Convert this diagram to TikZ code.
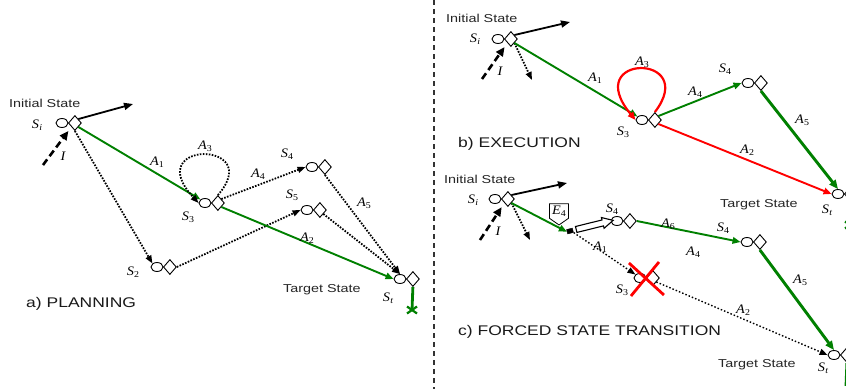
\documentclass[tikz,border=0pt]{standalone}
\usepackage{fontspec}
\setmainfont{Liberation Sans}
\newfontfamily\capfont[FakeStretch=1.25]{Liberation Sans}
\newfontfamily\symfont[FakeStretch=1.1]{Liberation Serif}
\usetikzlibrary{arrows.meta,shapes.geometric,shapes.arrows,shapes.symbols}
\definecolor{pathgreen}{RGB}{0,128,0}
\definecolor{errred}{RGB}{255,0,0}
% italic symbol with a small subscript
\newcommand\sym[2]{{\symfont\fontsize{13}{13}\selectfont\itshape #1\kern0.2pt\raisebox{-0.35ex}{\fontsize{9}{9}\selectfont\upshape #2}}}
% a state: small ellipse followed by a diamond
\newcommand\stnode[2]{%
  \node[stc] (#1c) at (#2) {};
  \node[std, anchor=west] (#1d) at ([xshift=-0.5pt]#1c.east) {};}
\begin{document}
\begin{tikzpicture}[x=1pt,y=-1pt,
  stc/.style={ellipse, draw, line width=0.9pt, fill=white, minimum width=12pt, minimum height=9pt, inner sep=0pt},
  std/.style={diamond, draw, line width=0.9pt, fill=white, minimum width=13pt, minimum height=15pt, inner sep=0pt},
  lbl/.style={font=\capfont\fontsize{11.5}{12}\selectfont, inner sep=0pt, anchor=base west, text=black!85},
  captxt/.style={font=\capfont\fontsize{14}{14}\selectfont, inner sep=0pt, anchor=base west, text=black!90},
  mlbl/.style={inner sep=0pt},
  blk/.style={line width=1.8pt, -{Triangle[length=9pt,width=7pt]}},
  inarr/.style={line width=2.6pt, dash pattern=on 7pt off 4pt, shorten >=5pt, -{Triangle[length=9pt,width=8pt]}},
  dotl/.style={line width=1.8pt, dash pattern=on 1.6pt off 1.4pt, -{Triangle[length=8pt,width=6pt]}},
  dotthin/.style={line width=1.4pt, dash pattern=on 1.5pt off 2pt, -{Triangle[length=8pt,width=6pt]}},
  grn/.style={draw=pathgreen, line width=1.9pt, -{Triangle[length=8pt,width=6.5pt]}, pathgreen},
  grnthick/.style={draw=pathgreen, line width=2.9pt, -{Triangle[length=9pt,width=7.5pt]}, pathgreen},
  redl/.style={draw=errred, line width=1.9pt, -{Triangle[length=8pt,width=6.5pt]}, errred},
  stub/.style={draw=pathgreen, line width=2.8pt},
  stubx/.style={draw=pathgreen, line width=2.2pt},
  crossout/.style={draw=errred, line width=2.8pt},
  blockarr/.style={single arrow, draw, fill=white, line width=1.1pt, minimum height=38pt, inner sep=2.5pt,
    single arrow head extend=2.5pt, single arrow tip angle=55, sloped},
  evt/.style={signal, signal to=south, signal pointer angle=110, draw, fill=white, line width=0.8pt,
    inner sep=2pt, minimum width=19pt},
  divider/.style={draw=black!80, line width=1.8pt, dash pattern=on 5pt off 4pt}]
\useasboundingbox (0,0) rectangle (846,389);
\fill[white] (0,0) rectangle (846,389);

% ---------------- a) planning ----------------
\stnode{aSi}{62,123}
\stnode{aS2}{157,267}
\stnode{aS3}{205,203}
\stnode{aS4}{312,167}
\stnode{aS5}{307,210}
\stnode{aSt}{400,279}
\coordinate (aOut) at (133,104);
\coordinate (aIn) at (43,165);
\coordinate (aEnd) at (412,310);

\draw[blk] (aSid.north east) -- (aOut);
\draw[inarr] (aIn) -- (aSid.south west);
\draw[grn] (aSid.south east) -- (aS3c.north west);
\draw[dotl] (aSid.south) -- (aS2c.north west);
\draw[dotl] (aS3d.north) .. controls (266,140) and (140,140) .. (aS3c.west);
\draw[dotl] (aS3d.north east) -- (aS4c.west);
\draw[dotl] (aS2d.east) -- (aS5c.west);
\draw[dotl] (aS4d.south) -- (aStc.north);
\draw[dotl] (aS5d.south east) -- (aStc.north);
\draw[grn] (aS3d.south east) -- (aStc.west);
\draw[stub] (aStd.south) -- (aEnd);
\draw[stubx] ([shift={(-5,-3.5)}]aEnd) -- ([shift={(5,3.5)}]aEnd);
\draw[stubx] ([shift={(-5,3.5)}]aEnd) -- ([shift={(5,-3.5)}]aEnd);

\node[lbl] (aInit) at (9,107) {Initial State};
\node[lbl] (aTarget) at (283,292) {Target State};
\node[captxt] (aCap) at (26,307) {a) PLANNING};
\node[mlbl] (aLSi) at (37,125) {\sym{S}{\itshape i}};
\node[mlbl] (aLI) at (63,157) {\sym{I}{}};
\node[mlbl] (aLA1) at (157,162) {\sym{A}{1}};
\node[mlbl] (aLA3) at (205,146) {\sym{A}{3}};
\node[mlbl] (aLS3) at (188,217) {\sym{S}{3}};
\node[mlbl] (aLS2) at (133,272) {\sym{S}{2}};
\node[mlbl] (aLA4) at (258,174) {\sym{A}{4}};
\node[mlbl] (aLS4) at (287,154) {\sym{S}{4}};
\node[mlbl] (aLS5) at (292,195) {\sym{S}{5}};
\node[mlbl] (aLA5) at (364,203) {\sym{A}{5}};
\node[mlbl] (aLA2) at (307,238) {\sym{A}{2}};
\node[mlbl] (aLSt) at (388,298) {\sym{S}{\itshape t}};

% ---------------- divider ----------------
\draw[divider] (434,0) -- (434,389);

% ---------------- b) execution ----------------
\stnode{bSi}{498,39}
\stnode{bS3}{642,120}
\stnode{bS4}{748,83}
\stnode{bSt}{838,194}
\coordinate (bOut) at (570,22);
\coordinate (bIn) at (482,79);
\coordinate (bDown) at (532,80);
\coordinate (bEnd) at (850,225);

\draw[blk] (bSid.north east) -- (bOut);
\draw[inarr] (bIn) -- (bSid.south west);
\draw[dotl] (bSid.south east) -- (bDown);
\draw[grn] (bSid.south east) -- (bS3c.north west);
\draw[redl, line width=2.2pt] (bS3d.north) .. controls (700,53) and (580,53) .. (bS3c.west);
\draw[grn] (bS3d.north east) -- (bS4c.west);
\draw[redl] (bS3d.south east) -- (bStc.west);
\draw[grnthick] (bS4d.south) -- (bStc.north);
\draw[stub] (bStd.south) -- (bEnd);
\draw[stubx] ([shift={(-5,-3.5)}]bEnd) -- ([shift={(5,3.5)}]bEnd);
\draw[stubx] ([shift={(-5,3.5)}]bEnd) -- ([shift={(5,-3.5)}]bEnd);

\node[lbl] (bInit) at (446,22) {Initial State};
\node[lbl] (bTarget) at (720,207) {Target State};
\node[captxt] (bCap) at (458,147) {b) EXECUTION};
\node[mlbl] (bLSi) at (475,39) {\sym{S}{\itshape i}};
\node[mlbl] (bLI) at (500,72) {\sym{I}{}};
\node[mlbl] (bLA1) at (595,78) {\sym{A}{1}};
\node[mlbl] (bLA3) at (642,62) {\sym{A}{3}};
\node[mlbl] (bLS3) at (623,132) {\sym{S}{3}};
\node[mlbl] (bLA4) at (695,92) {\sym{A}{4}};
\node[mlbl] (bLS4) at (725,69) {\sym{S}{4}};
\node[mlbl] (bLA5) at (802,120) {\sym{A}{5}};
\node[mlbl] (bLA2) at (747,150) {\sym{A}{2}};
\node[mlbl] (bLSt) at (827,210) {\sym{S}{\itshape t}};

% ---------------- c) forced state transition ----------------
\stnode{cSi}{495,199}
\stnode{cS4}{617,221}
\stnode{cS3}{640,278}
\stnode{cSf}{747,242}
\stnode{cSt}{834,355}
\coordinate (cOut) at (567,183);
\coordinate (cIn) at (480,240);
\coordinate (cDown) at (530,240);
\coordinate (cEnd) at (846,386);
\node[draw, fill=black, minimum width=6pt, minimum height=4.5pt, inner sep=0pt, rotate=14] (cBrk) at (570,231) {};
\node[evt] (cE) at (559,211) {\sym{E}{4}};

\draw[blk] (cSid.north east) -- (cOut);
\draw[inarr] (cIn) -- (cSid.south west);
\draw[dotl] (cSid.south east) -- (cDown);
\draw[grn] (cSid.south east) -- (cBrk.west);
\path (cBrk.east) -- (cS4c.west) node[midway, blockarr] (cJump) {};
\draw[dotthin] (cBrk.south east) -- (cS3c.north west);
\draw[dotthin] (cS3d.south east) -- (cStc.west);
\draw[grn] (cS4d.east) -- (cSfc.west);
\draw[grnthick] (cSfd.south) -- (cStc.north);
\draw[stub] (cStd.south) -- (cEnd);
\draw[crossout] ([shift={(-17,-15)}]cS3d.west) -- ([shift={(18,17)}]cS3d.west);
\draw[crossout] ([shift={(13,-16)}]cS3d.west) -- ([shift={(-15,18)}]cS3d.west);

\node[lbl] (cInit) at (444,183) {Initial State};
\node[lbl] (cTarget) at (718,367) {Target State};
\node[captxt] (cCap) at (458,335) {c) FORCED STATE TRANSITION};
\node[mlbl] (cLSi) at (473,200) {\sym{S}{\itshape i}};
\node[mlbl] (cLI) at (498,232) {\sym{I}{}};
\node[mlbl] (cLS4) at (612,209) {\sym{S}{4}};
\node[mlbl] (cLA6) at (668,224) {\sym{A}{6}};
\node[mlbl] (cLA1) at (600,247) {\sym{A}{1}};
\node[mlbl] (cLSf) at (723,228) {\sym{S}{4}};
\node[mlbl] (cLA4) at (693,252) {\sym{A}{4}};
\node[mlbl] (cLS3) at (622,290) {\sym{S}{3}};
\node[mlbl] (cLA5) at (800,280) {\sym{A}{5}};
\node[mlbl] (cLA2) at (743,310) {\sym{A}{2}};
\node[mlbl] (cLSt) at (823,368) {\sym{S}{\itshape t}};
\end{tikzpicture}
\end{document}
